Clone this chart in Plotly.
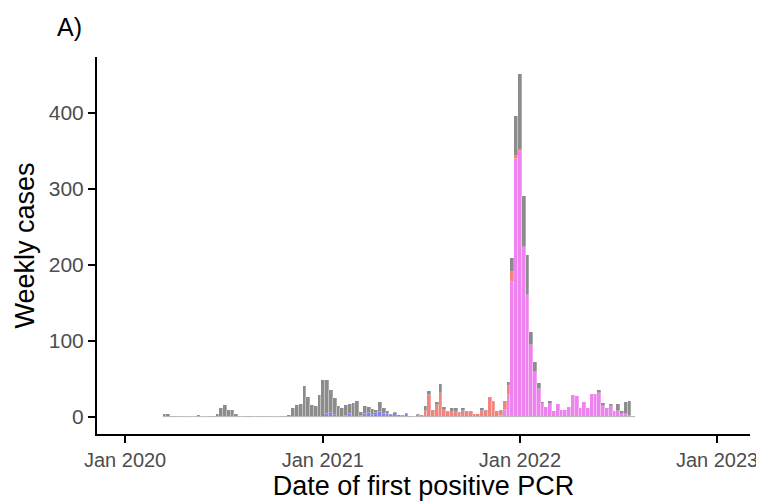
import pandas as pd
import plotly.graph_objects as go

# semanas (centro da barra), 125 semanas a partir de 14/03/2020
week_dates = pd.date_range("2020-03-14", periods=125, freq="7D")

# casos semanais por categoria
other = [4, 3, 1, 1, 0, 0, 0, 0, 0, 2,
         0, 0, 1, 1, 3, 11, 15, 9, 9, 3,
         0, 0, 1, 1, 0, 1, 0, 1, 0, 0,
         0, 1, 1, 2, 12, 15, 17, 40, 26, 15,
         14, 28, 48, 44, 30, 23, 14, 12, 14, 13,
         18, 20, 5, 10, 8, 8, 4, 13, 8, 4,
         2, 1, 2, 1, 1, 1, 0, 2, 0, 6,
         5, 2, 4, 12, 4, 1, 5, 5, 1, 4,
         2, 2, 0, 1, 3, 1, 1, 2, 1, 1,
         0, 6, 19, 53, 100, 67, 53, 18, 13, 7,
         3, 0, 3, 0, 0, 0, 0, 0, 0, 0,
         0, 0, 0, 0, 0, 4, 4, 2, 3, 0,
         9, 4, 16, 19, 1]
alpha = [0] * 43 + [4, 5, 2, 0, 0, 1, 4, 0, 0, 1,
                    4, 5, 2, 5, 6, 3, 4, 2, 5, 0,
                    1, 4] + [0] * 60
delta = [0] * 67 + [2, 2, 8, 29, 7, 15, 31, 9, 6, 6,
                    6, 5, 7, 6, 6, 4, 3, 8, 8, 25,
                    19, 7, 7, 11, 12, 12, 4, 3] + [0] * 30
omicron = [0] * 89 + [1, 9, 28, 178, 339, 349, 224, 160, 94, 59,
                      37, 16, 13, 17, 7, 17, 9, 9, 13, 29,
                      27, 11, 19, 11, 30, 30, 31, 14, 10, 14,
                      7, 8, 4, 3, 1, 0]

series_names = ["Omicron", "Delta", "Alpha", "Other"]
series_colors = ["#EE82EE", "#F4837D", "#8282FF", "#8C8C8C"]

year_ticks = ["2020-01-01", "2021-01-01", "2022-01-01", "2023-01-01"]
year_labels = ["Jan 2020", "Jan 2021", "Jan 2022", "Jan 2023"]
y_ticks = [0, 100, 200, 300, 400]

fig = go.Figure()

# linha de base (barras com zero casos aparecem como traço)
fig.add_trace(go.Scatter(
    x=[week_dates[0] - pd.Timedelta(days=3.5), week_dates[-1] + pd.Timedelta(days=3.5)],
    y=[0, 0], mode="lines", line=dict(color="#BBBBBB", width=1),
    hoverinfo="skip", showlegend=False
))

for name, values, color in zip(series_names, [omicron, delta, alpha, other], series_colors):
    fig.add_trace(go.Bar(
        x=week_dates,
        y=values,
        name=name,
        marker=dict(color=color, line=dict(color="rgba(255,255,255,0.55)", width=0.5)),
        showlegend=False
    ))

# a página tem margem de 8px no body, por isso a figura é um pouco menor
fig.update_layout(
    width=756, height=494,
    barmode="stack", bargap=0,
    paper_bgcolor="white", plot_bgcolor="white",
    margin=dict(l=89, r=14, t=49, b=68),
    font=dict(family="Liberation Sans, Arial, sans-serif", color="black"),
    showlegend=False,
)

fig.update_xaxes(
    type="date",
    range=["2019-11-10", "2023-03-03"],
    tickvals=year_ticks, ticktext=year_labels,
    showline=True, linecolor="black", linewidth=2,
    ticks="outside", ticklen=7, tickwidth=2, tickcolor="black",
    tickfont=dict(size=20, color="#4D4D4D"),
    showgrid=False, zeroline=False, automargin=False,
    title=dict(text="Date of first positive PCR", font=dict(size=27), standoff=2),
)
fig.update_yaxes(
    range=[-22.9, 474],
    tickvals=y_ticks,
    showline=True, linecolor="black", linewidth=2,
    ticks="outside", ticklen=7, tickwidth=2, tickcolor="black",
    tickfont=dict(size=21, color="#4D4D4D"),
    showgrid=False, zeroline=False, automargin=False,
    title=dict(text="Weekly cases", font=dict(size=27), standoff=6),
)

fig.add_annotation(
    text="A)", xref="paper", yref="paper",
    x=-0.042, y=1.08, xanchor="center", yanchor="middle",
    showarrow=False, font=dict(size=25, color="black"),
)

fig.write_html("out.html")
